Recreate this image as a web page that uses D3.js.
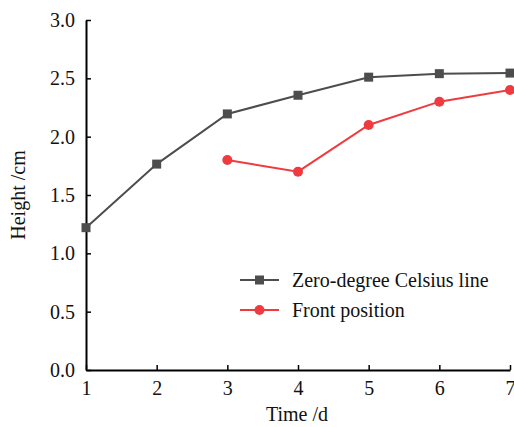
<!DOCTYPE html>
<html>
<head>
<meta charset="utf-8">
<script src="https://cdn.jsdelivr.net/npm/d3@7/dist/d3.min.js"></script>
<style>
  html, body { margin: 0; padding: 0; background: #fff; }
  svg { display: block; }
  svg text { font-family: "Liberation Serif", "Times New Roman", serif; }
</style>
</head>
<body>
<svg id="chart" width="514" height="427"></svg>
<script>
const days = [1, 2, 3, 4, 5, 6, 7];
const zeroDegreeLine = [1.22, 1.765, 2.195, 2.355, 2.51, 2.54, 2.545];
const frontDays = [3, 4, 5, 6, 7];
const frontPosition = [1.80, 1.70, 2.10, 2.30, 2.40];
const yTicks = [0.0, 0.5, 1.0, 1.5, 2.0, 2.5, 3.0];
const seriesNames = ["Zero-degree Celsius line", "Front position"];

const svg = d3.select("#chart");
const margin = { left: 86, right: 4, top: 20, bottom: 57 };
const W = 514, H = 427;
const FS = 20;

const x = d3.scaleLinear().domain([1, 7]).range([margin.left, W - margin.right]);
const y = d3.scaleLinear().domain([0, 3]).range([H - margin.bottom, margin.top]);

const grey = "#4d4d4d", red = "#ef3b3f";

// axes with inward ticks
const xAxis = svg.append("g")
  .attr("transform", `translate(0,${y(0)})`)
  .call(d3.axisBottom(x).tickValues(days).tickSizeInner(-5).tickSizeOuter(0).tickPadding(8).tickFormat(d3.format("d")));
const yAxis = svg.append("g")
  .attr("transform", `translate(${x(1)},0)`)
  .call(d3.axisLeft(y).tickValues(yTicks).tickSizeInner(-5).tickSizeOuter(0).tickPadding(11).tickFormat(d3.format(".1f")));

[xAxis, yAxis].forEach(g => {
  g.attr("font-family", null).attr("font-size", null);
  g.select(".domain").attr("stroke", "#000").attr("stroke-width", 2);
  g.selectAll(".tick line").attr("stroke", "#000").attr("stroke-width", 1.5);
  g.selectAll(".tick text").attr("fill", "#111").attr("font-size", FS);
});
xAxis.selectAll(".tick text").attr("dy", "0.85em");

// axis titles
svg.append("text").attr("x", (x(1) + x(7)) / 2 - 1).attr("y", 421)
  .attr("text-anchor", "middle").attr("font-size", FS).attr("fill", "#111").text("Time /d");
svg.append("text").attr("transform", `translate(25,${(y(0) + y(3)) / 2}) rotate(-90)`)
  .attr("text-anchor", "middle").attr("font-size", FS).attr("fill", "#111").text("Height /cm");

const line = d3.line().x(d => x(d[0])).y(d => y(d[1]));

const greyData = days.map((d, i) => [d, zeroDegreeLine[i]]);
const redData = frontDays.map((d, i) => [d, frontPosition[i]]);

svg.append("path").datum(greyData).attr("d", line)
  .attr("fill", "none").attr("stroke", grey).attr("stroke-width", 2);
svg.selectAll(".sq").data(greyData).enter().append("rect")
  .attr("x", d => x(d[0]) - 4.5).attr("y", d => y(d[1]) - 4.5)
  .attr("width", 9).attr("height", 9).attr("fill", grey);

svg.append("path").datum(redData).attr("d", line)
  .attr("fill", "none").attr("stroke", red).attr("stroke-width", 2);
svg.selectAll(".dot").data(redData).enter().append("circle")
  .attr("cx", d => x(d[0])).attr("cy", d => y(d[1])).attr("r", 5).attr("fill", red);

// legend
const legend = svg.append("g");
const legY = [280, 310];
[grey, red].forEach((c, i) => {
  legend.append("line").attr("x1", 240).attr("x2", 279).attr("y1", legY[i]).attr("y2", legY[i])
    .attr("stroke", c).attr("stroke-width", 2);
  if (i === 0) {
    legend.append("rect").attr("x", 259.5 - 4.5).attr("y", legY[i] - 4.5).attr("width", 9).attr("height", 9).attr("fill", c);
  } else {
    legend.append("circle").attr("cx", 259.5).attr("cy", legY[i]).attr("r", 5).attr("fill", c);
  }
  legend.append("text").attr("x", 292).attr("y", legY[i]).attr("dy", "0.33em")
    .attr("font-size", FS).attr("fill", "#111").text(seriesNames[i]);
});
</script>
</body>
</html>
